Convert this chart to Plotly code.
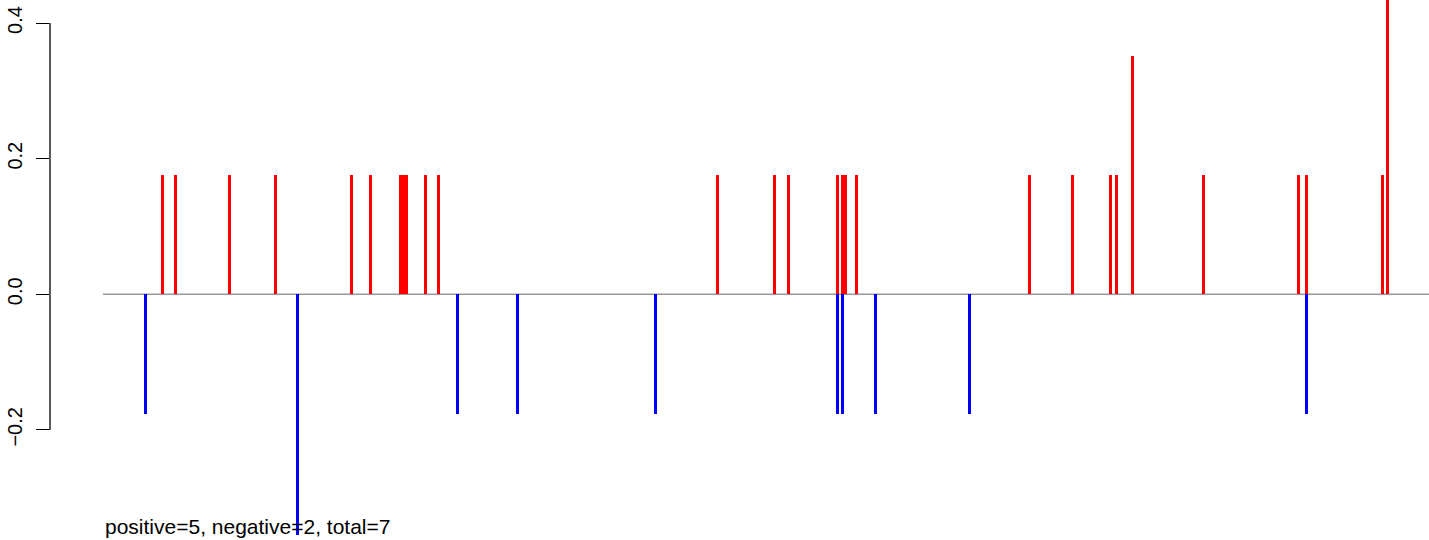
import plotly.graph_objects as go

# positions along the sequence (arbitrary position units) and values
pos_x = [162.5, 175.5, 229.5, 275.5, 351.5, 370.5, 400.5, 403.5, 406.5, 425.5,
         438.5, 717.5, 774.5, 788.5, 837.5, 842.5, 845.5, 856.5, 1029.5, 1072.5,
         1110.5, 1116.5, 1132.5, 1203.5, 1298.5, 1306.5, 1382.5, 1387.5]
pos_y = [0.176, 0.176, 0.176, 0.176, 0.176, 0.176, 0.176, 0.176, 0.176, 0.176,
         0.176, 0.176, 0.176, 0.176, 0.176, 0.176, 0.176, 0.176, 0.176, 0.176,
         0.176, 0.176, 0.352, 0.176, 0.176, 0.176, 0.176, 0.53]

neg_x = [145.5, 297.5, 457.5, 517.5, 655.5, 837.5, 842.5, 875.5, 969.5, 1306.5]
neg_y = [-0.176, -0.355, -0.176, -0.176, -0.176, -0.176, -0.176, -0.176, -0.176, -0.176]

y_ticks = [-0.2, 0.0, 0.2, 0.4]
label = "positive=5, negative=2, total=7"
x_start = 103

fig = go.Figure()
fig.add_trace(go.Bar(x=pos_x, y=pos_y, width=3, marker=dict(color="#FF0000", line=dict(width=0)),
                     hoverinfo="x+y"))
fig.add_trace(go.Bar(x=neg_x, y=neg_y, width=3, marker=dict(color="#0000FF", line=dict(width=0)),
                     hoverinfo="x+y"))

# baseline
fig.add_shape(type="line", xref="x", yref="y", x0=x_start, x1=1429, y0=0, y1=0,
              line=dict(color="#999999", width=1.5), layer="below")
# y axis line spanning the tick range
fig.add_shape(type="line", xref="paper", yref="y", x0=0, x1=0, y0=min(y_ticks), y1=max(y_ticks),
              line=dict(color="black", width=1.3))

fig.add_annotation(x=x_start, y=-0.3425, xref="x", yref="y", text=label, showarrow=False,
                   xanchor="left", yanchor="middle",
                   font=dict(family="Liberation Sans, Arial", size=21, color="black"))

fig.update_layout(
    width=1429, height=540,
    margin=dict(l=50, r=0, t=0, b=0),
    paper_bgcolor="white", plot_bgcolor="white",
    showlegend=False, barmode="overlay", bargap=0,
    xaxis=dict(range=[50, 1429], visible=False, showgrid=False, zeroline=False),
    yaxis=dict(range=[-0.3624, 0.434], showgrid=False, zeroline=False, showline=False,
               tickvals=y_ticks, tickformat=".1f", ticks="outside", ticklen=13,
               tickwidth=1.3, tickcolor="black", tickangle=-90, ticklabelstandoff=6,
               tickfont=dict(family="Liberation Sans, Arial", size=20, color="black")),
)

fig.write_html("out.html", config={"displayModeBar": False},
               post_script="document.body.style.margin='0';document.body.style.overflow='hidden';")
